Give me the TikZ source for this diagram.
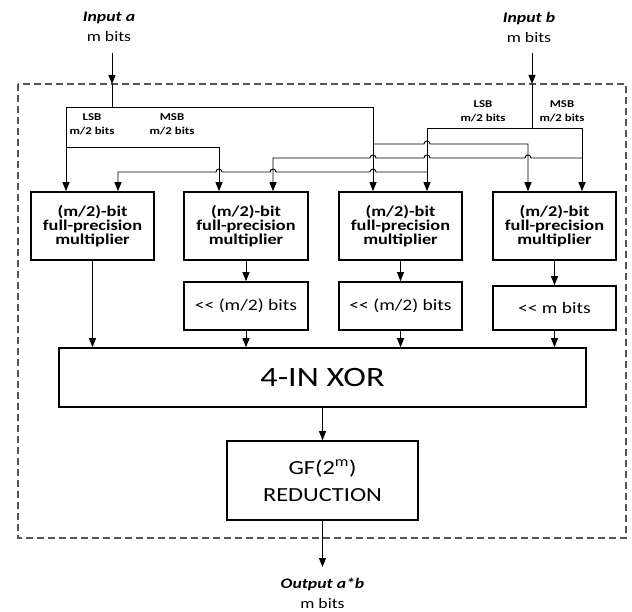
\documentclass[tikz,border=0pt]{standalone}
\usepackage{fontspec}
\setmainfont{Carlito}[FakeStretch=1.22]
\usetikzlibrary{arrows.meta}
\definecolor{dashgray}{HTML}{555555}
\newcommand{\shl}{<\kern0pt<}
\begin{document}
\begin{tikzpicture}[x=1pt,y=-1pt,
  wire/.style={line width=0.9pt, draw=black},
  arr/.style={wire, -{Triangle[length=9pt,width=7pt]}},
  blk/.style={draw, line width=1.6pt, inner sep=0pt},
  mult/.style={blk, minimum width=123pt, minimum height=68pt,
    font=\bfseries\fontsize{15}{14}\selectfont, align=center},
  shiftbox/.style={blk, minimum width=123pt, minimum height=48pt,
    font=\fontsize{16}{18}\selectfont},
  lbl/.style={font=\bfseries\fontsize{10.5}{14}\selectfont, align=center, inner sep=0pt},
  io/.style={font=\fontsize{14.5}{20}\selectfont, align=center, inner sep=0pt},
]
\useasboundingbox (0,0) rectangle (632,612);

% dashed enclosure
\draw[dashgray, line width=1.3pt, dash pattern=on 7pt off 4pt] (18,84) rectangle (626,538);

% inputs / output texts
\node[io] (ina) at (109,27) {\textbf{\textit{Input a}}\\m bits};
\node[io] (inb) at (529,27) {\textbf{\textit{Input b}}\\m bits};
\node[io] (outab) at (322.5,593) {\textbf{\textit{Output a*b}}\\m bits};

% blocks
\node[mult] (m1) at (92.5,226) {(m/2)-bit\\full-precision\\multiplier};
\node[mult, minimum width=124pt] (m2) at (246,226) {(m/2)-bit\\full-precision\\multiplier};
\node[mult] (m3) at (400.5,226) {(m/2)-bit\\full-precision\\multiplier};
\node[mult] (m4) at (554.5,226) {(m/2)-bit\\full-precision\\multiplier};

\node[shiftbox, minimum width=124pt] (s2) at (246,306) {\shl{} (m/2) bits};
\node[shiftbox] (s3) at (400.5,306) {\shl{} (m/2) bits};
\node[shiftbox, minimum height=44pt] (s4) at (554.5,308) {\shl{} m bits};

\node[blk, minimum width=527pt, minimum height=59pt, font=\fontsize{28}{30}\selectfont] (xor) at (322.5,377.5) {4-IN XOR};
\node[blk, minimum width=191pt, minimum height=79pt, align=center, font=\fontsize{20}{27}\selectfont] (red) at (322.5,480.5) {GF(2\textsuperscript{m})\\REDUCTION};

% labels
\node[lbl] (la) at (92,124) {LSB\\m/2 bits};
\node[lbl] (ma) at (172,124) {MSB\\m/2 bits};
\node[lbl] (lb) at (483,111.5) {LSB\\m/2 bits};
\node[lbl] (mb) at (562,111.5) {MSB\\m/2 bits};

% coordinates
\coordinate (aSrc) at (112,53);
\coordinate (aIn) at (112,84);
\coordinate (aJ) at (112,107);
\coordinate (aL) at (66,107);
\coordinate (aH) at (373,107);
\coordinate (aLb) at (66,147);
\coordinate (aLc) at (219,147);
\coordinate (aHb) at (373,144);
\coordinate (aHc) at (528,144);
\coordinate (bSrc) at (532,53);
\coordinate (bIn) at (532,84);
\coordinate (bJ) at (532,128);
\coordinate (bL) at (427,128);
\coordinate (bH) at (582,128);
\coordinate (bLb) at (427,172);
\coordinate (bLc) at (118,172);
\coordinate (bHb) at (582,158);
\coordinate (bHc) at (273,158);
\coordinate (oEnd) at (322.5,567);

% input a
\draw[arr] (aSrc) -- (aIn);
\draw[wire] (aIn) -- (aJ);
\draw[wire] (aL) -- (aH);
\draw[arr] (aL) -- (aL |- m1.north);
\draw[arr] (aLb) -- (aLc) -- (aLc |- m2.north);
\draw[arr] (aH) -- (aH |- m3.north);
\draw[arr] (aHb) -- (424,144) arc[start angle=180,end angle=360,radius=3]
  -- (aHc) -- (aHc |- m4.north);

% input b
\draw[arr] (bSrc) -- (bIn);
\draw[wire] (bIn) -- (bJ);
\draw[wire] (bL) -- (bH);
\draw[arr] (bL) -- (bL |- m3.north);
\draw[arr] (bH) -- (bH |- m4.north);
\draw[arr] (bLb) -- (376,172) arc[start angle=0,end angle=-180,radius=3]
  -- (276,172) arc[start angle=0,end angle=-180,radius=3]
  -- (222,172) arc[start angle=0,end angle=-180,radius=3]
  -- (bLc) -- (bLc |- m1.north);
\draw[arr] (bHb) -- (531,158) arc[start angle=0,end angle=-180,radius=3]
  -- (430,158) arc[start angle=0,end angle=-180,radius=3]
  -- (376,158) arc[start angle=0,end angle=-180,radius=3]
  -- (bHc) -- (bHc |- m2.north);

% datapath
\draw[arr] (m1.south) -- (m1.south |- xor.north);
\draw[arr] (m2.south) -- (s2.north);
\draw[arr] (m3.south) -- (s3.north);
\draw[arr] (m4.south) -- (s4.north);
\draw[arr] (s2.south) -- (s2.south |- xor.north);
\draw[arr] (s3.south) -- (s3.south |- xor.north);
\draw[arr] (s4.south) -- (s4.south |- xor.north);
\draw[arr] (xor.south) -- (red.north);
\draw[arr] (red.south) -- (oEnd);
\end{tikzpicture}
\end{document}
